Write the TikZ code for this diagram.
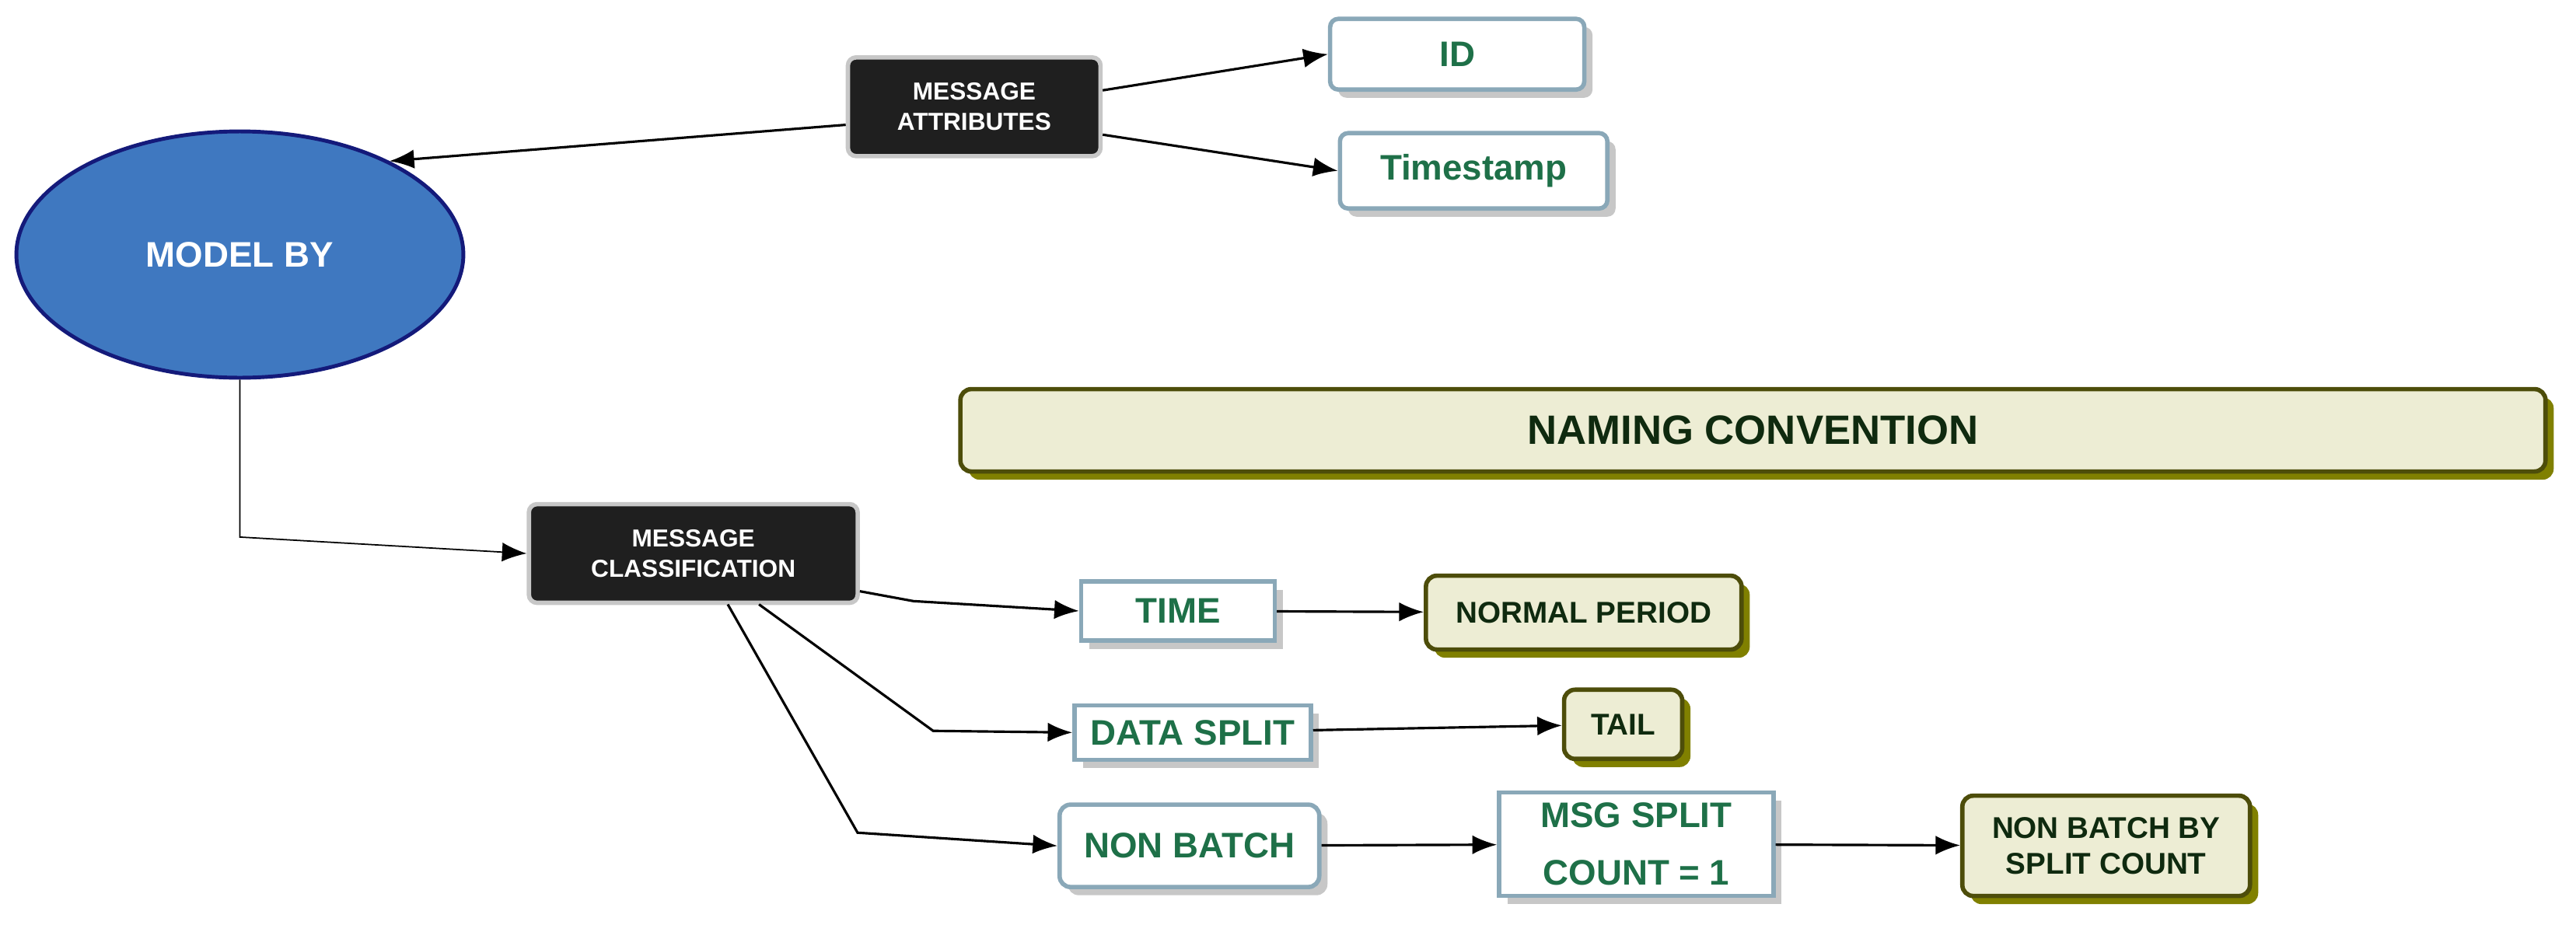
\documentclass[tikz,border=0pt]{standalone}
\usepackage{fontspec}
\setmainfont{Liberation Sans}
\usetikzlibrary{arrows.meta,shadows,shapes.geometric}
\definecolor{ellfill}{HTML}{3F78C0}
\definecolor{elldraw}{HTML}{141A7A}
\definecolor{leafdraw}{HTML}{8AA8B8}
\definecolor{leaftext}{HTML}{1E7048}
\definecolor{convfill}{HTML}{EDEDD4}
\definecolor{convdraw}{HTML}{4D4D0A}
\definecolor{convshadow}{HTML}{808000}
\definecolor{darktext}{HTML}{0F2A0F}
\begin{document}
\begin{tikzpicture}[x=0.02113cm,y=-0.02113cm,
  every node/.style={font=\bfseries, align=center, inner sep=0pt},
  hub/.style={fill=black!88, draw=black!22, line width=1.6pt, rounded corners=3pt,
    text=white, font=\bfseries\fontsize{9}{11}\selectfont},
  leaf/.style={fill=white, draw=leafdraw, line width=1.6pt, text=leaftext,
    font=\bfseries\fontsize{13}{17}\selectfont,
    drop shadow={shadow xshift=3pt, shadow yshift=-3pt, fill=black!22, opacity=1}},
  conv/.style={fill=convfill, draw=convdraw, line width=1.6pt, rounded corners=4pt, text=darktext,
    font=\bfseries\fontsize{11}{13}\selectfont,
    drop shadow={shadow xshift=3pt, shadow yshift=-3pt, fill=convshadow, opacity=1}},
  link/.style={line width=0.9pt, -{Latex[length=9pt,width=7pt]}},
  thin/.style={line width=0.5pt, -{Latex[length=9pt,width=7pt]}}]
\useasboundingbox (0,0) rectangle (1568,563);
% nodes
\node[ellipse, fill=ellfill, draw=elldraw, line width=1.4pt, text=white,
  minimum width=5.75cm, minimum height=3.17cm, font=\bfseries\fontsize{13}{15}\selectfont] (model) at (146,155) {MODEL BY};
\node[hub, minimum width=3.25cm, minimum height=1.27cm] (attr) at (593,65) {MESSAGE\\ATTRIBUTES};
\node[leaf, rounded corners=3pt, minimum width=3.27cm, minimum height=0.91cm] (id) at (887,33) {ID};
\node[leaf, rounded corners=3pt, minimum width=3.44cm, minimum height=0.97cm] (ts) at (897,104) {Timestamp};
\node[conv, minimum width=20.39cm, minimum height=1.06cm, font=\bfseries\fontsize{15}{17}\selectfont] (naming) at (1067,262) {NAMING CONVENTION};
\node[hub, minimum width=4.23cm, minimum height=1.27cm] (cls) at (422,337) {MESSAGE\\CLASSIFICATION};
\node[leaf, minimum width=2.49cm, minimum height=0.76cm] (time) at (717,372) {TIME};
\node[conv, minimum width=4.06cm, minimum height=0.95cm] (normal) at (964,373) {NORMAL PERIOD};
\node[leaf, minimum width=3.04cm, minimum height=0.70cm] (split) at (726,446) {DATA SPLIT};
\node[conv, minimum width=1.52cm, minimum height=0.89cm] (tail) at (988,441) {TAIL};
\node[leaf, rounded corners=4pt, minimum width=3.34cm, minimum height=1.06cm] (nonbatch) at (724,515) {NON BATCH};
\node[leaf, minimum width=3.53cm, minimum height=1.33cm, font=\bfseries\fontsize{13}{21}\selectfont] (msgsplit) at (996,514) {MSG SPLIT\\COUNT = 1};
\node[conv, minimum width=3.70cm, minimum height=1.29cm] (nbbs) at (1282,515) {NON BATCH BY\\SPLIT COUNT};
% connectors
\coordinate (m1) at (146,327);
\coordinate (c1) at (556,366);
\coordinate (c2) at (568,445);
\coordinate (c3) at (522,507);
\draw[link] (attr.west |- 0,76) -- (model.32);
\draw[link] (attr.east |- 0,55) -- (id.west |- 0,33);
\draw[link] (attr.east |- 0,82) -- (ts.west |- 0,104);
\draw[thin] (model.south) -- (m1) -- (cls.west);
\draw[link] (cls.east |- 0,360) -- (c1) -- (time.west);
\draw[link] (462,368) -- (c2) -- (split.west);
\draw[link] (443,368) -- (c3) -- (nonbatch.west);
\draw[link] (time) -- (normal);
\draw[link] (split) -- (tail);
\draw[link] (nonbatch) -- (msgsplit);
\draw[link] (msgsplit) -- (nbbs);
\end{tikzpicture}
\end{document}
